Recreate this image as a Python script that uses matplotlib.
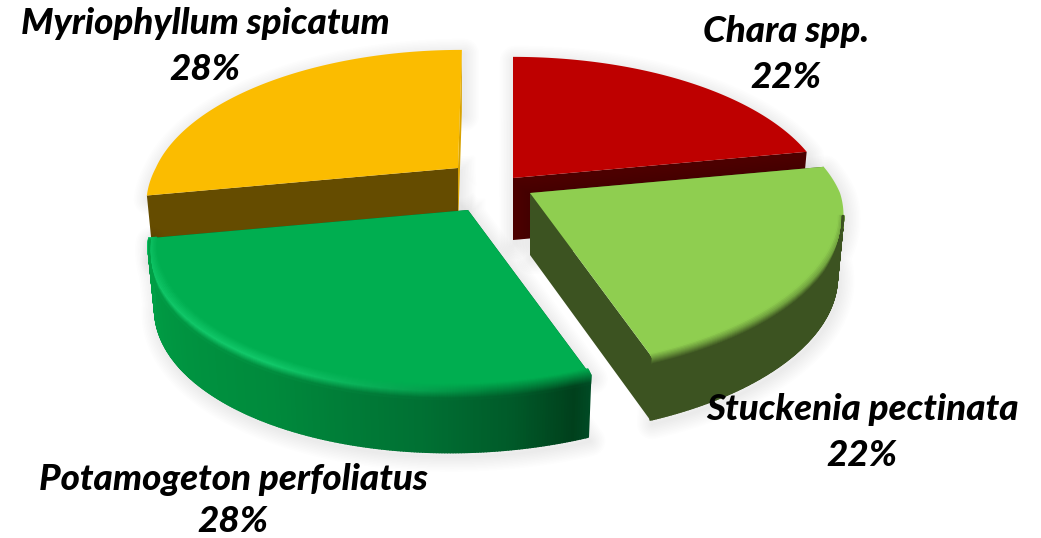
import numpy as np
import matplotlib
matplotlib.use('Agg')
import matplotlib.pyplot as plt
from matplotlib.collections import PolyCollection
from matplotlib.colors import to_rgb

species = ['Chara spp.', 'Stuckenia pectinata', 'Potamogeton perfoliatus', 'Myriophyllum spicatum']
shares = [22, 22, 28, 28]
top_colors = ['#BE0000', '#8FCE50', '#00AE50', '#FBBC00']
end_cut_colors = ['#4C0000', '#3C5321', '#005F2B', '#D8A200']
start_cut_colors = ['#4C0000', '#3C5321', '#005F2B', '#654C00']
wall_ramps = [None,
              ['#3C5321', '#3C5321'],
              ['#004A24', '#00401C', '#005A29', '#007033', '#008A3C', '#00A046'],
              None]
wall_stops = [None, [0, 1], [0, 0.025, 0.12, 0.25, 0.5, 1], None]
highlights = [None, None, '#12C96A', None]
apexes = [(513, 178), (530, 193), (468, 210), (458, 168)]
scales = [1.0, 1.0, 1.0, 0.975]
top_lean = [0, 0, 0, 4]
label_xy = [(786, 32), (863, 410), (233, 479), (205, 24)]
pct_xy = [(786, 78), (862, 456), (233, 522), (205, 70)]
draw_order = [0, 3, 1, 2]

W, H = 1041, 538
RX, RY, K, SHEAR, THICK, INSET = 310, 145, 0.197, -15, 62, 0.98


def proj(theta, i):
    x, y = np.sin(theta), -np.cos(theta)
    d = 1 - K * y
    lean = np.where(y > 0, SHEAR * y, -top_lean[i] * y * d)
    return scales[i] * (RX * x + lean) / d, scales[i] * RY * y / d


def rgb(c):
    return np.array(to_rgb(c))


def mix(a, b, t):
    return tuple(np.asarray(a) * (1 - t) + np.asarray(b) * t)


fig = plt.figure(figsize=(W / 100, H / 100), dpi=100)
ax = fig.add_axes([0, 0, 1, 1])
ax.set_xlim(0, W)
ax.set_ylim(H, 0)
ax.axis('off')

edges = np.cumsum([0] + shares) / sum(shares) * 2 * np.pi

for i in draw_order:
    a0, a1 = edges[i], edges[i + 1]
    cx, cy = apexes[i]
    th = np.linspace(a0, a1, 240)
    dx, dy = proj(th, i)
    px, py = cx + dx, cy + dy
    bx, by = cx + dx * INSET, cy + dy + THICK
    base = 10 * (draw_order.index(i) + 1)

    # soft drop shadow of the whole slice
    sx = np.r_[cx, px, bx[::-1], cx] + 2
    sy = np.r_[cy, py, by[::-1], cy + THICK] + 4
    for lw in np.linspace(2, 22, 10):
        ax.plot(np.r_[sx, sx[0]], np.r_[sy, sy[0]], color='#000000', alpha=0.009,
                lw=lw, solid_joinstyle='round', zorder=base - 5)

    # the two cut faces
    ax.fill([cx, px[0], bx[0], cx], [cy, py[0], by[0], cy + THICK],
            color=start_cut_colors[i], lw=0, zorder=base)
    ax.fill([cx, px[-1], bx[-1], cx], [cy, py[-1], by[-1], cy + THICK],
            color=end_cut_colors[i], lw=0, zorder=base)

    # outer wall, shaded along the arc
    has_wall = wall_ramps[i] is not None
    if has_wall:
        ramp = np.array([rgb(c) for c in wall_ramps[i]])
        frac = (th - a0) / (a1 - a0)
        cols_all = np.column_stack([np.interp(frac, wall_stops[i], ramp[:, k]) for k in range(3)])
        front = np.cos(th) < -0.15
        quads, cols = [], []
        for j in range(len(th) - 1):
            if front[j]:
                quads.append([(px[j], py[j]), (px[j + 1], py[j + 1]),
                              (bx[j + 1], by[j + 1]), (bx[j], by[j])])
                cols.append(cols_all[j])
        ax.add_collection(PolyCollection(quads, facecolors=cols, edgecolors=cols, lw=1.2, zorder=base + 1))

    # top face
    ax.fill(np.r_[cx, px], np.r_[cy, py], color=top_colors[i], lw=0, zorder=base + 2)

    # soft rim between the top face and the wall
    if has_wall:
        offs = np.linspace(-6, 9, 16)
        fade = np.clip((-np.cos(th) - 0.15) / 0.3, 0, 1)
        top = rgb(top_colors[i])
        rim_q, rim_c = [], []
        for m in range(len(offs) - 1):
            t = (m + 0.5) / (len(offs) - 1)
            o0, o1 = offs[m], offs[m + 1]
            s0 = 1 - 0.004 * max(-o0, 0) - (1 - INSET) * max(o0, 0) / THICK
            s1 = 1 - 0.004 * max(-o1, 0) - (1 - INSET) * max(o1, 0) / THICK
            for j in range(len(th) - 1):
                if not front[j]:
                    continue
                rim_q.append([(cx + dx[j] * s0, py[j] + o0 * fade[j]),
                              (cx + dx[j + 1] * s0, py[j + 1] + o0 * fade[j + 1]),
                              (cx + dx[j + 1] * s1, py[j + 1] + o1 * fade[j + 1]),
                              (cx + dx[j] * s1, py[j] + o1 * fade[j])])
                wall = cols_all[j]
                if highlights[i] is not None:
                    glow = np.clip((frac[j] - 0.15) / 0.35, 0, 1)
                    hi = mix(rgb(highlights[i]), mix(top, wall, 0.5), 1 - glow)
                    c = mix(top, hi, t / 0.5) if t < 0.5 else mix(hi, wall, (t - 0.5) / 0.5)
                else:
                    c = mix(top, wall, np.clip((t - 0.15) / 0.7, 0, 1))
                rim_c.append(c)
        ax.add_collection(PolyCollection(rim_q, facecolors=rim_c, edgecolors=rim_c, lw=1.2, zorder=base + 3))

font = dict(family='Lato', style='italic', weight='black', fontsize=26.5, color='black', ha='center', va='center')
for i in range(4):
    ax.text(*label_xy[i], species[i], zorder=99, **font)
    ax.text(*pct_xy[i], f'{shares[i]}%', zorder=99, **font)

fig.savefig('out.png', dpi=100)
